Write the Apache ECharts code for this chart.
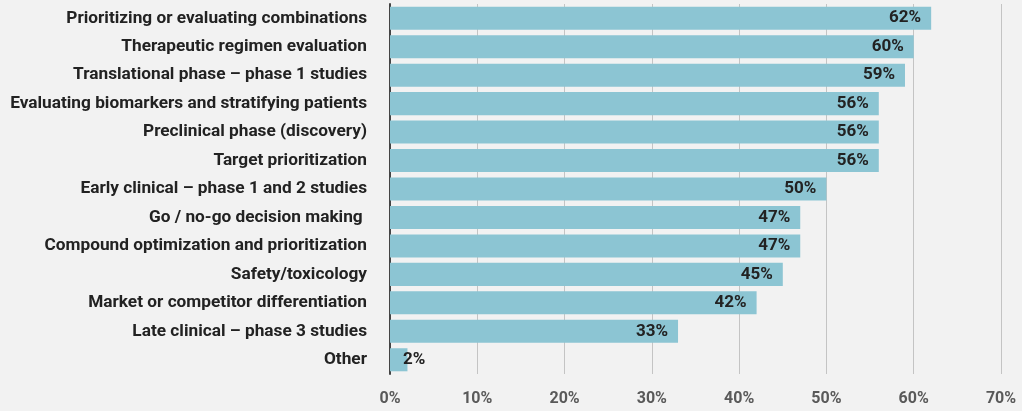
<!DOCTYPE html>
<html>
<head>
<meta charset="utf-8">
<script src="https://cdn.jsdelivr.net/npm/echarts@6/dist/echarts.min.js"></script>
<style>
  html, body { margin: 0; padding: 0; background: #f2f2f2; }
  #chart { width: 1022px; height: 411px; }
</style>
</head>
<body>
<div id="chart"></div>
<script>
// Survey categories, listed top to bottom
const categories = [
  'Prioritizing or evaluating combinations',
  'Therapeutic regimen evaluation',
  'Translational phase – phase 1 studies',
  'Evaluating biomarkers and stratifying patients',
  'Preclinical phase (discovery)',
  'Target prioritization',
  'Early clinical – phase 1 and 2 studies',
  'Go / no-go decision making ',
  'Compound optimization and prioritization',
  'Safety/toxicology',
  'Market or competitor differentiation',
  'Late clinical – phase 3 studies',
  'Other'
];

// Share of respondents, in percent
const shares = [62, 60, 59, 56, 56, 56, 50, 47, 47, 45, 42, 33, 2];

// Value axis ticks
const axisMin = 0;
const axisMax = 70;
const axisStep = 10;

const fontFamily = 'Roboto, Lato, sans-serif';

const chart = echarts.init(document.getElementById('chart'));

// Short bars get their label outside the bar end
const barData = shares.map(v => {
  if (v < 10) {
    return {
      value: v,
      label: { position: 'insideLeft', distance: 0, offset: [13, 0] }
    };
  }
  return v;
});

chart.setOption({
  backgroundColor: '#f2f2f2',
  animation: false,
  grid: { left: 390, right: 21, top: 4, bottom: 37, containLabel: false },
  xAxis: {
    type: 'value',
    min: axisMin,
    max: axisMax,
    interval: axisStep,
    axisLine: { show: false },
    axisTick: { show: false },
    splitLine: { show: true, lineStyle: { color: '#c4c4c4', width: 1 } },
    axisLabel: {
      formatter: '{value}%',
      color: '#595959',
      fontFamily: fontFamily,
      fontWeight: 'bold',
      fontSize: 16,
      margin: 17
    }
  },
  yAxis: {
    type: 'category',
    data: categories,
    inverse: true,
    axisLine: { show: true, lineStyle: { color: '#444', width: 2 } },
    axisTick: { show: false },
    axisLabel: {
      color: '#222',
      fontFamily: fontFamily,
      fontWeight: 'bold',
      fontSize: 17.25,
      margin: 23
    }
  },
  series: [{
    type: 'bar',
    data: barData,
    barCategoryGap: '19%',
    itemStyle: { color: '#8cc5d3' },
    label: {
      show: true,
      position: 'insideRight',
      distance: 10,
      formatter: '{c}%',
      color: '#222',
      fontFamily: fontFamily,
      fontWeight: 'bold',
      fontSize: 17
    }
  }]
});
</script>
</body>
</html>
